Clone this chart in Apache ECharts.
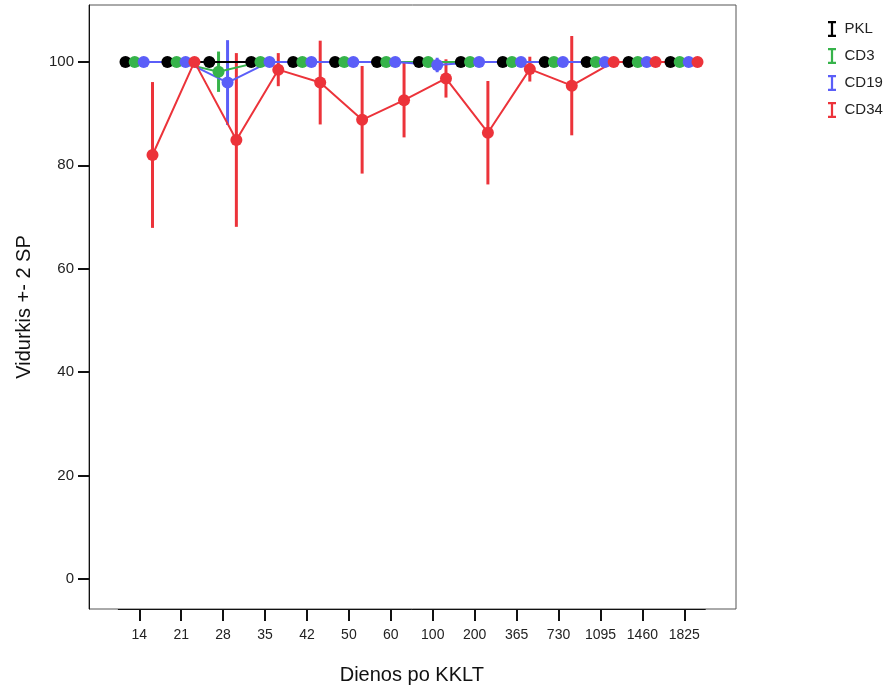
<!DOCTYPE html>
<html>
<head>
<meta charset="utf-8">
<script src="https://cdn.jsdelivr.net/npm/echarts@6/dist/echarts.min.js"></script>
<style>
  html, body { margin: 0; padding: 0; background: #fff; }
  #chart { width: 888px; height: 685px; }
</style>
</head>
<body>
<div id="chart"></div>
<script>
// Days after transplantation (category labels on the x axis)
const days = ['14', '21', '28', '35', '42', '50', '60', '100', '200', '365', '730', '1095', '1460', '1825'];
const yTicks = [0, 20, 40, 60, 80, 100];

const seriesNames = ['PKL', 'CD3', 'CD19', 'CD34'];

// Means and 2 SD half-widths per group
const pklMean = [100, 100, 100, 100, 100, 100, 100, 100, 100, 100, 100, 100, 100, 100];
const pklErr  = [0, 0, 0, 0, 0, 0, 0, 0, 0, 0, 0, 0, 0, 0];

const cd3Mean = [100, 100, 98.1, 100, 100, 100, 100, 100, 100, 100, 100, 100, 100, 100];
const cd3Err  = [0, 0, 3.9, 0, 0, 0, 0, 0, 0, 0, 0, 0, 0, 0];

const cd19Mean = [100, 100, 96.0, 100, 100, 100, 100, 99.4, 100, 100, 100, 100, 100, 100];
const cd19Err  = [0, 0, 8.2, 0, 0, 0, 0, 1.4, 0, 0, 0, 0, 0, 0];

const cd34Mean = [82.0, 100, 84.9, 98.5, 96.0, 88.8, 92.6, 96.8, 86.3, 98.6, 95.4, 100, 100, 100];
const cd34Err  = [14.1, 0, 16.8, 3.2, 8.1, 10.4, 7.2, 3.7, 10.0, 2.4, 9.6, 0, 0, 0];

const means = [pklMean, cd3Mean, cd19Mean, cd34Mean];
const errs = [pklErr, cd3Err, cd19Err, cd34Err];
const colors = ['#000000', '#36b34a', '#5b5ef8', '#ec333a'];
// horizontal dodge of each group inside a category
const dodge = [-0.33, -0.11, 0.105, 0.315];

const FONT = "'Liberation Sans', Arial, sans-serif";

const series = [];
seriesNames.forEach((name, s) => {
  series.push({
    name: name,
    type: 'line',
    xAxisIndex: 0,
    yAxisIndex: 0,
    data: means[s].map((v, i) => [i + dodge[s], v]),
    symbol: 'circle',
    symbolSize: 12,
    itemStyle: { color: colors[s] },
    lineStyle: { color: colors[s], width: 2 },
    silent: true,
    animation: false
  });
  series.push({
    name: name,
    type: 'custom',
    xAxisIndex: 0,
    yAxisIndex: 0,
    data: means[s]
      .map((v, i) => [i + dodge[s], v - errs[s][i], v + errs[s][i], errs[s][i]])
      .filter(d => d[3] > 0),
    encode: { x: 0, y: [1, 2] },
    renderItem: function (params, api) {
      const lo = api.coord([api.value(0), api.value(1)]);
      const hi = api.coord([api.value(0), api.value(2)]);
      return {
        type: 'line',
        shape: { x1: lo[0], y1: lo[1], x2: hi[0], y2: hi[1] },
        style: { stroke: colors[s], lineWidth: 3 }
      };
    },
    silent: true,
    animation: false
  });
});

// error-bar shaped legend marker
const errIcon = 'path://M0,0H9V2.5H5.75V15.5H9V18H0V15.5H3.25V2.5H0Z';

const chart = echarts.init(document.getElementById('chart'), null, { renderer: 'canvas' });
chart.setOption({
  backgroundColor: '#ffffff',
  animation: false,
  legend: {
    orient: 'vertical',
    left: 823,
    top: 16,
    itemWidth: 9,
    itemHeight: 16,
    itemGap: 11,
    selectedMode: false,
    data: seriesNames.map((n, s) => ({ name: n, icon: errIcon, itemStyle: { color: colors[s] } })),
    textStyle: { fontFamily: FONT, fontSize: 15, color: '#222', padding: [0, 0, 0, 3] }
  },
  grid: [
    { left: 89, right: 152, top: 5, bottom: 76, outerBoundsMode: 'none', show: true, borderColor: '#555', borderWidth: 1 },
    { left: 118.3, right: 182.7, top: 5, bottom: 76, outerBoundsMode: 'none' }
  ],
  xAxis: [
    { type: 'value', gridIndex: 0, min: -1.2, max: 14.233, show: false },
    {
      type: 'category', gridIndex: 1, data: days, boundaryGap: true,
      axisLine: { show: true, lineStyle: { color: '#111', width: 1 } },
      axisTick: { show: true, alignWithLabel: true, interval: 0, length: 12, lineStyle: { color: '#111', width: 2 } },
      axisLabel: { interval: 0, fontFamily: FONT, fontSize: 14, color: '#222', margin: 19 },
      name: 'Dienos po KKLT', nameLocation: 'middle', nameGap: 56,
      nameTextStyle: { fontFamily: FONT, fontSize: 20, color: '#111' }
    }
  ],
  yAxis: [
    {
      type: 'value', gridIndex: 0, min: -5.8, max: 111,
      splitLine: { show: false },
      axisLine: { show: true, onZero: false, lineStyle: { color: '#111', width: 1 } },
      axisTick: { show: true, length: 11, customValues: yTicks, lineStyle: { color: '#111', width: 2 } },
      axisLabel: { customValues: yTicks, fontFamily: FONT, fontSize: 15, color: '#222', margin: 15 },
      name: 'Vidurkis +- 2 SP', nameLocation: 'middle', nameGap: 55,
      nameTextStyle: { fontFamily: FONT, fontSize: 20, color: '#111' }
    },
    { type: 'value', gridIndex: 1, min: 0, max: 1, show: false }
  ],
  series: series
});
</script>
</body>
</html>
